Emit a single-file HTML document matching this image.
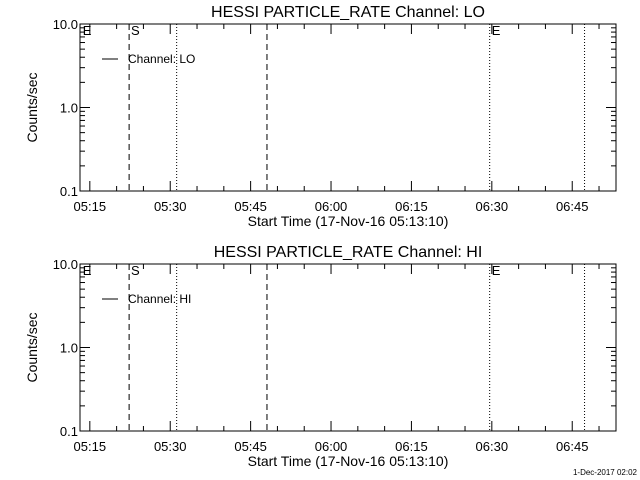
<!DOCTYPE html>
<html><head><meta charset="utf-8"><style>
body{margin:0;background:#fff;}
svg{display:block;font-family:"Liberation Sans",sans-serif;}
</style></head><body>
<svg id="c" width="640" height="480" xmlns="http://www.w3.org/2000/svg"></svg>
<script>
const channels = ["LO", "HI"];
const xTickLabels = ["05:15", "05:30", "05:45", "06:00", "06:15", "06:30", "06:45"];
const xTickMinutes = [315, 330, 345, 360, 375, 390, 405];
const yTickValues = [0.1, 1, 10];
const yTickLabels = ["0.1", "1.0", "10.0"];
const dashedMinutes = [322.33, 348.05];
const dottedMinutes = [331.2, 389.6, 407.3];
const flagLabels = ["E", "S", "E"];
const flagMinutes = [313.5, 322.5, 389.8];
const tStart = 313.1667, tEnd = 413.1667;
const yMin = 0.1, yMax = 10;

const svg = document.getElementById('c');
const NS = "http://www.w3.org/2000/svg";
function mk(tag, attrs, parent){
  const e = document.createElementNS(NS, tag);
  for (const k in attrs) e.setAttribute(k, attrs[k]);
  (parent||svg).appendChild(e); return e;
}
const L = 80, R = 616;
const panels = [{top:24,bot:191},{top:264,bot:431}];
panels.forEach((p, i) => {
  const g = mk('g', {});
  
  
  const xs = t => L + (t - tStart) / (tEnd - tStart) * (R - L);
  const ys = v => p.bot - (Math.log10(v) - Math.log10(yMin)) / (Math.log10(yMax) - Math.log10(yMin)) * (p.bot - p.top);
  const title = mk('text', {x: 348, y: p.top - 7, 'text-anchor': 'middle', 'font-size': 16}, g);
  title.textContent = 'HESSI PARTICLE_RATE Channel: ' + channels[i];
  
  
  const box = mk('rect', {x: L, y: p.top, width: R - L, height: p.bot - p.top, fill: 'none', stroke: '#000', 'stroke-width': 1}, g);
  
  
  // x ticks
  for (let t = 315; t < tEnd; t += 5) {
    const x = xs(t), major = (t - 315) % 15 === 0, len = major ? 10 : 5;
    mk('line', {x1: x, x2: x, y1: p.bot, y2: p.bot - len, stroke: '#000'}, g);
    mk('line', {x1: x, x2: x, y1: p.top, y2: p.top + len, stroke: '#000'}, g);
  }
  xTickLabels.forEach((lab, j) => {
    const tx = mk('text', {x: xs(xTickMinutes[j]), y: p.bot + 20, 'text-anchor': 'middle', 'font-size': 13}, g);
    tx.textContent = lab;
    
    
  });
  const xt = mk('text', {x: 348, y: p.bot + 35, 'text-anchor': 'middle', 'font-size': 14}, g);
  xt.textContent = 'Start Time (17-Nov-16 05:13:10)';
  
  
  // y ticks
  for (let d = -1; d < 1; d++) {
    for (let m = 1; m <= 9; m++) {
      const v = m * Math.pow(10, d), y = ys(v), len = m === 1 ? 10 : 5;
      mk('line', {x1: L, x2: L + len, y1: y, y2: y, stroke: '#000'}, g);
      mk('line', {x1: R, x2: R - len, y1: y, y2: y, stroke: '#000'}, g);
    }
  }
  yTickValues.forEach((v, j) => {
    const ty = mk('text', {x: L - 2, y: ys(v) + 5, 'text-anchor': 'end', 'font-size': 13}, g);
    ty.textContent = yTickLabels[j];
    
    
  });
  const yt = mk('text', {x: 0, y: 0, 'text-anchor': 'middle', 'font-size': 14, transform: `translate(37,${(p.top + p.bot) / 2}) rotate(-90)`}, g);
  yt.textContent = 'Counts/sec';
  
  
  dashedMinutes.forEach(t => {
    const ln = mk('line', {x1: xs(t), x2: xs(t), y1: p.top, y2: p.bot, stroke: '#000', 'stroke-dasharray': '6,4'}, g);
    
    
  });
  dottedMinutes.forEach(t => {
    const ln = mk('line', {x1: xs(t), x2: xs(t), y1: p.top, y2: p.bot, stroke: '#000', 'stroke-dasharray': '1,2'}, g);
    
    
  });
  flagLabels.forEach((f, j) => {
    const ft = mk('text', {x: xs(flagMinutes[j]) + 1, y: p.top + 11, 'font-size': 13}, g);
    ft.textContent = f;
    
    
  });
  const lg = mk('g', {}, g);
  
  
  mk('line', {x1: 102, x2: 118, y1: p.top + 35, y2: p.top + 35, stroke: '#000'}, lg);
  const lt = mk('text', {x: 128, y: p.top + 39, 'font-size': 12}, lg);
  lt.textContent = 'Channel: ' + channels[i];
});
const ts = mk('text', {x: 637, y: 475, 'text-anchor': 'end', 'font-size': 8});
ts.textContent = '1-Dec-2017 02:02';


</script>
</body></html>
